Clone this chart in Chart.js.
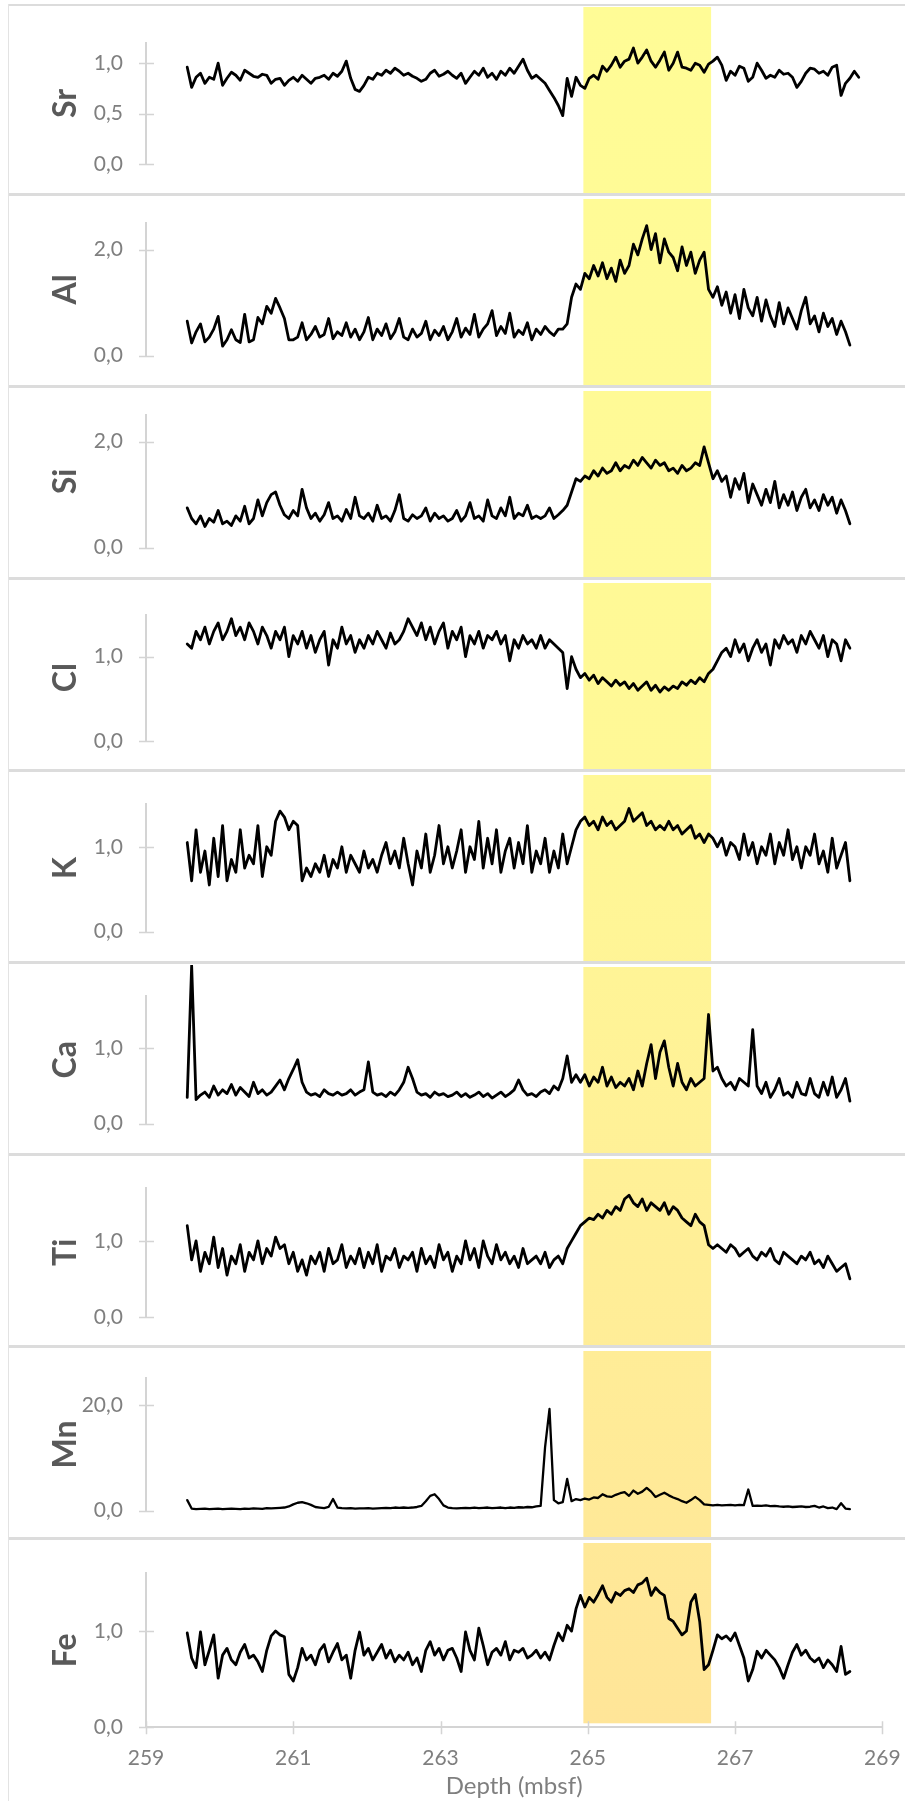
<!DOCTYPE html>
<html>
<head>
<meta charset="utf-8">
<title>XRF element profiles</title>
<script src="https://cdn.jsdelivr.net/npm/chart.js@4.4.1/dist/chart.umd.min.js"></script>
<style>
  html, body { margin: 0; padding: 0; background: #ffffff; }
  #wrap { position: relative; width: 905px; height: 1801px; overflow: hidden; background: #ffffff; }
  #wrap canvas { position: absolute; left: 0; }
  .sep { position: absolute; left: 8px; width: 897px; height: 3px; background: #dcdcdc; z-index: 2; }
  .vline { position: absolute; left: 8px; top: 4px; width: 1px; height: 1797px; background: #e3e3e3; z-index: 2; }
</style>
</head>
<body>
<div id="wrap"></div>
<script>
// Sampling depths (mbsf)
const depth = [
  259.56,259.62,259.68,259.74,259.80,259.86,259.92,259.98,260.04,260.10,
  260.16,260.22,260.28,260.34,260.40,260.46,260.52,260.58,260.64,260.70,
  260.76,260.82,260.88,260.94,261.00,261.06,261.12,261.18,261.24,261.30,
  261.36,261.42,261.48,261.54,261.60,261.66,261.72,261.78,261.84,261.90,
  261.96,262.02,262.08,262.14,262.20,262.26,262.32,262.38,262.44,262.50,
  262.56,262.62,262.68,262.74,262.80,262.86,262.92,262.98,263.04,263.10,
  263.16,263.22,263.28,263.34,263.40,263.46,263.52,263.58,263.64,263.70,
  263.76,263.82,263.88,263.94,264.00,264.06,264.12,264.18,264.24,264.30,
  264.36,264.42,264.48,264.54,264.60,264.66,264.72,264.78,264.84,264.90,
  264.96,265.02,265.08,265.14,265.20,265.26,265.32,265.38,265.44,265.50,
  265.56,265.62,265.68,265.74,265.80,265.86,265.92,265.98,266.04,266.10,
  266.16,266.22,266.28,266.34,266.40,266.46,266.52,266.58,266.64,266.70,
  266.76,266.82,266.88,266.94,267.00,267.06,267.12,267.18,267.24,267.30,
  267.36,267.42,267.48,267.54,267.60,267.66,267.72,267.78,267.84,267.90,
  267.96,268.02,268.08,268.14,268.20,268.26,268.32,268.38,268.44,268.50,
  268.56,268.62,268.68
];

// Element profiles (normalised counts)
const sr = [
  0.96,0.76,0.86,0.90,0.80,0.86,0.84,1.00,0.78,0.85,
  0.91,0.88,0.83,0.93,0.90,0.87,0.86,0.89,0.88,0.80,
  0.84,0.85,0.78,0.83,0.86,0.82,0.88,0.84,0.80,0.85,
  0.86,0.88,0.84,0.90,0.87,0.92,1.02,0.85,0.74,0.72,
  0.78,0.86,0.84,0.90,0.88,0.93,0.90,0.95,0.92,0.88,
  0.90,0.87,0.85,0.82,0.84,0.90,0.93,0.87,0.89,0.92,
  0.88,0.85,0.90,0.80,0.86,0.92,0.88,0.95,0.86,0.90,
  0.84,0.92,0.88,0.95,0.90,0.97,1.04,0.93,0.85,0.88,
  0.84,0.80,0.73,0.66,0.58,0.48,0.85,0.67,0.86,0.78,
  0.75,0.85,0.88,0.84,0.97,0.92,0.98,1.06,0.96,1.02,
  1.04,1.15,1.00,1.06,1.13,1.02,0.96,1.03,1.11,0.93,
  1.00,1.11,0.96,0.95,0.93,1.00,0.98,0.91,0.99,1.02,
  1.06,0.98,0.83,0.92,0.88,0.97,0.95,0.82,0.86,1.00,
  0.93,0.85,0.88,0.86,0.93,0.89,0.90,0.86,0.76,0.82,
  0.90,0.95,0.94,0.90,0.92,0.88,0.96,0.98,0.68,0.80,
  0.85,0.92,0.86
];
const al = [
  0.65,0.24,0.45,0.60,0.26,0.35,0.50,0.74,0.18,0.30,
  0.49,0.30,0.25,0.78,0.26,0.30,0.72,0.60,0.93,0.80,
  1.08,0.90,0.70,0.30,0.30,0.35,0.62,0.30,0.40,0.55,
  0.35,0.40,0.70,0.32,0.45,0.38,0.62,0.35,0.50,0.30,
  0.45,0.72,0.30,0.50,0.38,0.60,0.32,0.45,0.70,0.35,
  0.30,0.50,0.35,0.42,0.65,0.30,0.48,0.38,0.55,0.30,
  0.45,0.70,0.35,0.52,0.40,0.78,0.35,0.50,0.60,0.85,
  0.38,0.55,0.42,0.80,0.35,0.48,0.40,0.62,0.30,0.50,
  0.40,0.55,0.45,0.38,0.50,0.50,0.60,1.10,1.35,1.25,
  1.55,1.45,1.70,1.50,1.75,1.45,1.65,1.40,1.80,1.55,
  1.70,2.10,1.90,2.20,2.45,2.00,2.30,1.75,2.20,1.95,
  1.85,1.60,2.05,1.70,1.95,1.55,1.80,1.95,1.25,1.10,
  1.30,0.95,1.20,0.80,1.15,0.70,1.25,0.90,0.75,1.10,
  0.65,1.05,0.75,0.55,1.00,0.60,0.90,0.70,0.50,0.85,
  1.10,0.60,0.75,0.45,0.80,0.55,0.70,0.40,0.65,0.45,
  0.20
];
const si = [
  0.75,0.55,0.45,0.60,0.40,0.55,0.48,0.70,0.45,0.50,
  0.42,0.60,0.50,0.78,0.45,0.55,0.90,0.60,0.85,1.00,
  1.05,0.80,0.62,0.55,0.70,0.60,1.10,0.75,0.55,0.65,
  0.50,0.62,0.85,0.55,0.60,0.50,0.72,0.55,0.95,0.60,
  0.55,0.65,0.50,0.80,0.55,0.60,0.50,0.70,1.00,0.55,
  0.50,0.62,0.55,0.60,0.75,0.50,0.65,0.55,0.60,0.50,
  0.55,0.70,0.50,0.60,0.85,0.55,0.60,0.50,0.90,0.60,
  0.55,0.75,0.60,0.95,0.55,0.65,0.60,0.80,0.55,0.60,
  0.55,0.60,0.75,0.55,0.62,0.70,0.80,1.05,1.30,1.25,
  1.35,1.30,1.45,1.35,1.50,1.40,1.45,1.60,1.45,1.55,
  1.50,1.65,1.55,1.70,1.60,1.50,1.65,1.55,1.60,1.45,
  1.50,1.40,1.55,1.45,1.50,1.60,1.55,1.90,1.60,1.30,
  1.45,1.25,1.35,0.95,1.30,1.10,1.40,0.85,1.20,1.00,
  0.80,1.10,0.85,1.25,0.75,1.00,0.80,1.05,0.70,0.95,
  1.10,0.75,0.90,0.70,1.00,0.80,0.95,0.65,0.90,0.70,
  0.45
];
const cl = [
  1.15,1.10,1.30,1.20,1.35,1.15,1.30,1.40,1.20,1.30,
  1.45,1.25,1.35,1.20,1.40,1.30,1.15,1.35,1.25,1.10,
  1.30,1.20,1.35,1.00,1.25,1.15,1.30,1.10,1.25,1.05,
  1.20,1.30,0.90,1.20,1.10,1.35,1.15,1.25,1.05,1.20,
  1.10,1.25,1.15,1.30,1.20,1.10,1.28,1.15,1.20,1.30,
  1.45,1.35,1.25,1.40,1.20,1.35,1.15,1.30,1.40,1.10,
  1.30,1.20,1.35,1.00,1.25,1.15,1.30,1.10,1.25,1.20,
  1.30,1.15,1.25,0.95,1.20,1.10,1.25,1.15,1.20,1.10,
  1.25,1.10,1.20,1.15,1.10,1.05,0.62,1.00,0.85,0.75,
  0.80,0.72,0.78,0.68,0.75,0.70,0.65,0.72,0.66,0.70,
  0.62,0.68,0.60,0.65,0.70,0.60,0.66,0.58,0.64,0.60,
  0.65,0.62,0.70,0.66,0.72,0.68,0.75,0.70,0.80,0.85,
  0.95,1.05,1.10,1.00,1.20,1.05,1.15,0.95,1.10,1.20,
  1.05,1.15,0.90,1.20,1.10,1.25,1.15,1.20,1.05,1.25,
  1.15,1.30,1.20,1.10,1.25,1.00,1.20,1.15,0.95,1.20,
  1.10
];
const k = [
  1.05,0.60,1.20,0.70,0.95,0.55,1.10,0.65,1.25,0.60,
  0.85,0.70,1.20,0.75,0.90,0.80,1.25,0.65,1.00,0.90,
  1.30,1.42,1.35,1.20,1.30,1.25,0.60,0.75,0.65,0.80,
  0.70,0.90,0.65,0.85,0.75,1.00,0.70,0.90,0.80,0.70,
  0.95,0.75,0.85,0.70,0.90,1.05,0.80,0.95,0.75,1.10,
  0.80,0.55,0.95,0.75,1.15,0.70,0.90,1.25,0.80,1.00,
  0.75,0.95,1.20,0.70,1.00,0.85,1.30,0.75,1.10,0.80,
  1.20,0.70,0.95,1.10,0.75,1.05,0.80,1.25,0.70,0.95,
  0.80,1.10,0.70,0.95,0.75,1.15,0.80,1.00,1.20,1.30,
  1.35,1.25,1.30,1.20,1.35,1.25,1.30,1.20,1.25,1.30,
  1.45,1.30,1.35,1.40,1.25,1.30,1.20,1.25,1.20,1.30,
  1.20,1.25,1.15,1.20,1.25,1.10,1.15,1.05,1.15,1.10,
  1.00,1.10,0.90,1.05,1.00,0.85,1.15,0.90,1.05,0.80,
  1.00,0.90,1.15,0.80,1.05,0.90,1.20,0.85,1.00,0.75,
  1.00,0.90,1.15,0.80,0.95,0.70,1.10,0.75,0.90,1.05,
  0.60
];
const ca = [
  0.35,2.10,0.32,0.38,0.42,0.35,0.50,0.38,0.45,0.40,
  0.52,0.38,0.48,0.42,0.36,0.55,0.40,0.45,0.38,0.42,
  0.50,0.58,0.45,0.60,0.72,0.85,0.55,0.42,0.38,0.40,
  0.36,0.45,0.40,0.38,0.42,0.38,0.40,0.45,0.38,0.42,
  0.45,0.82,0.42,0.38,0.40,0.36,0.42,0.38,0.45,0.55,
  0.75,0.60,0.42,0.38,0.40,0.35,0.42,0.38,0.40,0.36,
  0.38,0.42,0.36,0.40,0.35,0.38,0.42,0.36,0.40,0.34,
  0.38,0.42,0.36,0.40,0.45,0.58,0.45,0.38,0.40,0.36,
  0.42,0.45,0.40,0.50,0.45,0.60,0.90,0.55,0.65,0.55,
  0.65,0.50,0.62,0.55,0.75,0.50,0.62,0.48,0.55,0.50,
  0.60,0.45,0.70,0.50,0.80,1.05,0.60,0.95,1.10,0.75,
  0.50,0.80,0.55,0.45,0.60,0.50,0.55,0.60,1.45,0.70,
  0.75,0.60,0.50,0.55,0.45,0.60,0.55,0.50,1.25,0.50,
  0.40,0.55,0.35,0.45,0.60,0.38,0.42,0.35,0.55,0.40,
  0.38,0.60,0.40,0.35,0.55,0.38,0.62,0.35,0.45,0.60,
  0.30
];
const ti = [
  1.20,0.75,1.00,0.60,0.85,0.70,1.05,0.65,0.90,0.55,
  0.80,0.70,0.95,0.60,0.85,0.75,1.00,0.70,0.90,0.80,
  1.05,0.90,0.95,0.70,0.85,0.60,0.75,0.55,0.80,0.70,
  0.85,0.60,0.90,0.70,0.75,0.95,0.65,0.80,0.70,0.90,
  0.65,0.85,0.70,0.95,0.60,0.80,0.75,0.90,0.65,0.80,
  0.75,0.85,0.60,0.90,0.70,0.80,0.65,0.95,0.75,0.85,
  0.60,0.80,0.70,1.00,0.75,0.90,0.65,1.00,0.80,0.70,
  0.95,0.75,0.85,0.70,0.80,0.65,0.90,0.70,0.75,0.80,
  0.70,0.85,0.65,0.75,0.80,0.70,0.90,1.00,1.10,1.20,
  1.25,1.30,1.28,1.35,1.30,1.40,1.35,1.45,1.40,1.55,
  1.60,1.50,1.45,1.55,1.40,1.50,1.45,1.40,1.50,1.35,
  1.45,1.40,1.30,1.25,1.20,1.35,1.25,1.20,0.95,0.90,
  0.95,0.90,0.85,0.95,0.90,0.80,0.85,0.90,0.80,0.75,
  0.85,0.80,0.90,0.75,0.70,0.85,0.80,0.75,0.70,0.80,
  0.75,0.85,0.70,0.75,0.65,0.80,0.70,0.60,0.65,0.70,
  0.50
];
const mn = [
  2.0,0.4,0.3,0.35,0.4,0.3,0.35,0.4,0.3,0.35,
  0.4,0.35,0.3,0.4,0.35,0.45,0.4,0.35,0.5,0.45,
  0.5,0.55,0.6,0.8,1.2,1.5,1.6,1.4,1.1,0.7,
  0.6,0.5,0.7,2.2,0.6,0.5,0.45,0.5,0.4,0.45,
  0.45,0.5,0.4,0.45,0.5,0.55,0.5,0.6,0.55,0.6,
  0.55,0.6,0.7,0.9,1.8,2.8,3.1,2.2,1.0,0.6,
  0.5,0.45,0.5,0.55,0.5,0.6,0.5,0.55,0.6,0.5,
  0.55,0.6,0.5,0.6,0.55,0.65,0.6,0.7,0.65,0.8,
  0.9,12.0,19.2,2.0,1.4,1.6,6.0,1.8,2.2,2.0,
  2.3,2.1,2.5,2.4,3.1,2.7,2.6,3.0,3.3,3.5,
  2.8,3.8,3.2,3.6,4.3,3.6,2.6,3.0,3.4,2.9,
  2.5,2.2,1.8,1.5,2.0,2.6,2.0,1.2,1.1,1.0,
  1.1,1.0,1.05,1.1,1.0,1.1,1.05,4.0,0.9,0.95,
  0.9,1.0,0.85,0.9,0.8,0.75,0.8,0.7,0.75,0.8,
  0.7,0.75,0.9,0.6,0.8,0.5,0.6,0.3,1.4,0.4,
  0.3
];
const fe = [
  0.98,0.72,0.62,0.99,0.65,0.80,0.96,0.51,0.75,0.82,
  0.70,0.65,0.78,0.86,0.72,0.75,0.68,0.58,0.80,0.95,
  1.00,0.96,0.94,0.55,0.48,0.62,0.82,0.70,0.75,0.65,
  0.80,0.86,0.68,0.78,0.87,0.70,0.75,0.51,0.80,0.99,
  0.75,0.82,0.70,0.78,0.86,0.72,0.80,0.68,0.75,0.70,
  0.78,0.65,0.72,0.58,0.80,0.89,0.75,0.82,0.70,0.80,
  0.82,0.72,0.58,0.99,0.80,0.70,1.03,0.85,0.65,0.78,
  0.82,0.75,0.89,0.70,0.80,0.78,0.82,0.72,0.75,0.80,
  0.72,0.78,0.70,0.85,0.98,0.90,1.06,1.00,1.23,1.37,
  1.25,1.35,1.30,1.38,1.47,1.35,1.30,1.40,1.37,1.42,
  1.44,1.40,1.48,1.50,1.55,1.37,1.45,1.40,1.37,1.13,
  1.10,1.03,0.96,1.00,1.30,1.38,1.10,0.60,0.65,0.80,
  0.96,0.92,0.95,0.90,0.98,0.85,0.72,0.48,0.60,0.79,
  0.72,0.80,0.75,0.70,0.62,0.51,0.65,0.78,0.86,0.75,
  0.80,0.72,0.68,0.72,0.62,0.70,0.65,0.58,0.84,0.55,
  0.58
];

// Axis tick values
const depthTicks = [259, 261, 263, 265, 267, 269];
const srTicks = [0, 0.5, 1.0];
const alTicks = [0, 2.0];
const siTicks = [0, 2.0];
const clTicks = [0, 1.0];
const kTicks = [0, 1.0];
const caTicks = [0, 1.0];
const tiTicks = [0, 1.0];
const mnTicks = [0, 20.0];
const feTicks = [0, 1.0];

// Highlighted depth interval
const intervalFrom = 264.94;
const intervalTo = 266.675;

// Panel layout: vertical placement of each stacked plot
const panels = [
  { label: 'Sr', values: sr, max: 1.2, ticks: srTicks, top: 5,    height: 188, padTop: 38,   zeroAt: 159 },
  { label: 'Al', values: al, max: 2.5, ticks: alTicks, top: 197,  height: 188, padTop: 26,   zeroAt: 158.7 },
  { label: 'Si', values: si, max: 2.5, ticks: siTicks, top: 389,  height: 188, padTop: 26,   zeroAt: 158.7 },
  { label: 'Cl', values: cl, max: 1.5, ticks: clTicks, top: 581,  height: 188, padTop: 33.5, zeroAt: 159.8 },
  { label: 'K',  values: k,  max: 1.5, ticks: kTicks,  top: 773,  height: 188, padTop: 31.3, zeroAt: 158.7 },
  { label: 'Ca', values: ca, max: 1.7, ticks: caTicks, top: 965,  height: 188, padTop: 30.7, zeroAt: 158.7 },
  { label: 'Ti', values: ti, max: 1.7, ticks: tiTicks, top: 1157, height: 188, padTop: 30.6, zeroAt: 160 },
  { label: 'Mn', values: mn, max: 25,  ticks: mnTicks, top: 1349, height: 188, padTop: 29.3, zeroAt: 161.7, thin: true },
  { label: 'Fe', values: fe, max: 1.6, ticks: feTicks, top: 1541, height: 260, padTop: 32.3, zeroAt: 186.3, bottomAxis: true }
];

const AXIS_GREY = '#d4d4d4';
const TEXT_GREY = '#7f7f7f';
const FONT = 'Lato, "Open Sans", sans-serif';
const PAGE_BAND_TOP = 8;
const PAGE_BAND_BOTTOM = 1723;

const fmt = v => Number(v).toFixed(1).replace('.', ',');

// Scales keep exactly the plot box given by the layout padding
const noScalePadding = s => {
  s.paddingTop = 0; s.paddingBottom = 0; s.paddingLeft = 0; s.paddingRight = 0;
};

// Draws the shaded interval behind the curve and the cross-shaped tick marks
const panelDecor = {
  id: 'panelDecor',
  beforeDraw(chart, args, opts) {
    const { ctx, chartArea, scales } = chart;
    const x1 = scales.x.getPixelForValue(intervalFrom);
    const x2 = scales.x.getPixelForValue(intervalTo);
    const yTop = 2;
    const yBot = opts.bottomAxis ? chartArea.bottom - 4 : chart.height;
    const g = ctx.createLinearGradient(0, PAGE_BAND_TOP - opts.top, 0, PAGE_BAND_BOTTOM - opts.top);
    g.addColorStop(0, 'rgb(255,252,150)');
    g.addColorStop(0.45, 'rgb(255,248,150)');
    g.addColorStop(1, 'rgb(255,229,152)');
    ctx.save();
    ctx.fillStyle = g;
    ctx.fillRect(x1, yTop, x2 - x1, yBot - yTop);
    ctx.restore();
  },
  afterDraw(chart, args, opts) {
    const { ctx, chartArea, scales } = chart;
    ctx.save();
    ctx.strokeStyle = AXIS_GREY;
    ctx.lineWidth = 1.5;
    ctx.beginPath();
    scales.y.ticks.forEach(t => {
      const py = Math.round(scales.y.getPixelForValue(t.value)) + 0.5;
      ctx.moveTo(chartArea.left - 7, py);
      ctx.lineTo(chartArea.left + 8, py);
    });
    if (opts.bottomAxis) {
      scales.x.ticks.forEach(t => {
        const px = Math.round(scales.x.getPixelForValue(t.value)) + 0.5;
        ctx.moveTo(px, chartArea.bottom - 6);
        ctx.lineTo(px, chartArea.bottom + 7);
      });
    }
    ctx.stroke();
    ctx.restore();
  }
};

const wrap = document.getElementById('wrap');

panels.forEach((p, idx) => {
  const canvas = document.createElement('canvas');
  canvas.width = 905;
  canvas.height = p.height;
  canvas.style.width = '905px';
  canvas.style.height = p.height + 'px';
  canvas.style.top = p.top + 'px';
  wrap.appendChild(canvas);

  if (idx > 0) {
    const sep = document.createElement('div');
    sep.className = 'sep';
    sep.style.top = (p.top - 4) + 'px';
    wrap.appendChild(sep);
  }

  const points = p.values.map((v, i) => ({ x: depth[i], y: v }));
  const bottomPad = p.bottomAxis ? 0 : p.height - p.zeroAt;

  new Chart(canvas, {
    type: 'line',
    data: {
      datasets: [{
        label: p.label,
        data: points,
        borderColor: '#000000',
        borderWidth: p.thin ? 2.3 : 2.8,
        borderJoinStyle: 'round',
        borderCapStyle: 'round',
        pointRadius: 0,
        tension: 0,
        fill: false,
        clip: false
      }]
    },
    options: {
      responsive: false,
      maintainAspectRatio: false,
      devicePixelRatio: 1,
      animation: false,
      events: [],
      layout: { padding: { top: p.padTop, bottom: bottomPad, left: 0, right: 22.7 } },
      plugins: {
        legend: { display: false },
        tooltip: { enabled: false },
        panelDecor: { top: p.top, bottomAxis: !!p.bottomAxis }
      },
      scales: {
        x: {
          type: 'linear',
          min: 259,
          max: 269,
          display: !!p.bottomAxis,
          afterBuildTicks: s => { s.ticks = depthTicks.map(v => ({ value: v })); },
          afterFit: s => {
            noScalePadding(s);
            if (p.bottomAxis) s.height = p.height - p.zeroAt;
          },
          grid: { display: false, drawTicks: false },
          border: { display: true, color: AXIS_GREY, width: 2 },
          ticks: {
            padding: 18,
            color: TEXT_GREY,
            font: { family: FONT, size: 21 },
            maxRotation: 0,
            callback: v => String(v)
          },
          title: {
            display: true,
            text: 'Depth (mbsf)',
            color: TEXT_GREY,
            font: { family: FONT, size: 24 },
            padding: { top: 0, bottom: 0 }
          }
        },
        y: {
          type: 'linear',
          min: 0,
          max: p.max,
          afterBuildTicks: s => { s.ticks = p.ticks.map(v => ({ value: v })); },
          afterFit: s => {
            noScalePadding(s);
            s.width = 146;
          },
          grid: { display: false, drawTicks: false },
          border: { display: true, color: AXIS_GREY, width: 2 },
          ticks: {
            padding: 23,
            color: TEXT_GREY,
            font: { family: FONT, size: 21 },
            callback: v => fmt(v)
          },
          title: {
            display: true,
            text: p.label,
            color: '#595959',
            font: { family: FONT, size: 32, weight: 'bold' },
            padding: { top: 46, bottom: 0 }
          }
        }
      }
    },
    plugins: [panelDecor]
  });
});

// Frame lines around the stack
const topLine = document.createElement('div');
topLine.className = 'sep';
topLine.style.top = '4px';
topLine.style.height = '2px';
wrap.appendChild(topLine);
const leftLine = document.createElement('div');
leftLine.className = 'vline';
wrap.appendChild(leftLine);
</script>
</body>
</html>
